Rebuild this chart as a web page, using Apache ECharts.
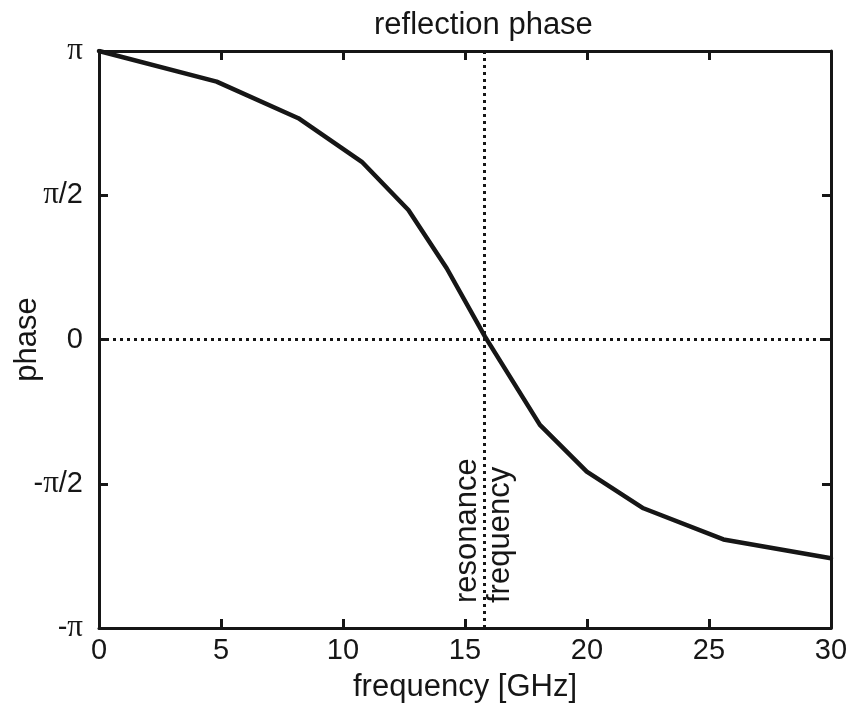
<!DOCTYPE html>
<html>
<head>
<meta charset="utf-8">
<title>reflection phase</title>
<script src="https://cdn.jsdelivr.net/npm/echarts@6/dist/echarts.min.js"></script>
<style>
  html, body { margin: 0; padding: 0; background: #fff; }
  #chart { width: 851px; height: 711px; }
</style>
</head>
<body>
<div id="chart"></div>
<script>
// Frequency samples in GHz and the reflection phase at each, in units of pi
const frequency = [0, 4.82, 8.17, 10.77, 12.68, 14.25, 15.82, 18.07, 19.99, 22.31, 25.59, 30];
const phaseOverPi = [1.0, 0.894, 0.767, 0.616, 0.449, 0.247, 0.01, -0.296, -0.458, -0.585, -0.693, -0.758];

// Resonance frequency (zero phase crossing), GHz
const resonanceFreq = 15.8;

// Tick labels on the phase axis ({s|...} marks the serif pi glyph)
const phaseTickValues = [-1, -0.5, 0, 0.5, 1];
const phaseTickLabels = ['-{s|π}', '-{s|π}/2', '0', '{s|π}/2', '{s|π}'];

const ink = '#161616';
const font = 'Liberation Sans, Arial, sans-serif';
const serif = 'Liberation Serif, Times New Roman, serif';

const chart = echarts.init(document.getElementById('chart'), null, { renderer: 'canvas' });

const axisLine = { show: true, onZero: false, lineStyle: { color: ink, width: 3 } };
const axisTick = { show: true, inside: true, length: 9, lineStyle: { color: ink, width: 3 } };

function phaseLabel(v) {
  const i = phaseTickValues.findIndex(t => Math.abs(t - v) < 1e-9);
  return i >= 0 ? phaseTickLabels[i] : '';
}

const option = {
  backgroundColor: '#fff',
  animation: false,
  title: {
    text: 'reflection phase',
    left: 369,
    top: 5,
    textStyle: { fontFamily: font, fontSize: 31, fontWeight: 'normal', color: ink }
  },
  grid: {
    left: 99, right: 20, top: 51, bottom: 83,
    containLabel: false, outerBoundsMode: 'none'
  },
  xAxis: [
    {
      type: 'value', position: 'bottom', min: 0, max: 30, interval: 5,
      name: 'frequency [GHz]', nameLocation: 'middle', nameGap: 44, nameMoveOverlap: false,
      nameTextStyle: { fontFamily: font, fontSize: 31, color: ink },
      axisLine, axisTick,
      axisLabel: { fontFamily: font, fontSize: 29, color: ink, margin: 8 },
      splitLine: { show: false }
    },
    {
      type: 'value', position: 'top', min: 0, max: 30, interval: 5,
      axisLine, axisTick, axisLabel: { show: false }, splitLine: { show: false }
    }
  ],
  yAxis: [
    {
      type: 'value', position: 'left', min: -1, max: 1, interval: 0.5,
      name: 'phase', nameLocation: 'middle', nameGap: 56, nameRotate: 90, nameMoveOverlap: false,
      nameTextStyle: { fontFamily: font, fontSize: 31, color: ink },
      axisLine, axisTick,
      axisLabel: {
        fontFamily: font, fontSize: 29, color: ink, margin: 16,
        formatter: phaseLabel,
        rich: {
          s: { fontFamily: serif, fontSize: 31, color: ink }
        }
      },
      splitLine: { show: false }
    },
    {
      type: 'value', position: 'right', min: -1, max: 1, interval: 0.5,
      axisLine, axisTick, axisLabel: { show: false }, splitLine: { show: false }
    }
  ],
  series: [
    {
      type: 'line',
      data: frequency.map((f, i) => [f, phaseOverPi[i]]),
      showSymbol: false,
      symbol: 'none',
      lineStyle: { color: ink, width: 4.5, join: 'round', cap: 'round' },
      z: 5,
      markLine: {
        silent: true,
        symbol: 'none',
        animation: false,
        label: { show: false },
        lineStyle: { color: ink, width: 3, type: [3, 4] },
        data: [
          { xAxis: resonanceFreq },
          { yAxis: 0 }
        ]
      }
    }
  ]
};

chart.setOption(option);

// Rotated annotation beside the resonance line
const base = chart.convertToPixel({ xAxisIndex: 0, yAxisIndex: 0 }, [resonanceFreq, -1]);
chart.setOption({
  graphic: [
    {
      type: 'text',
      x: base[0] - 1,
      y: base[1] - 25,
      rotation: Math.PI / 2,
      z: 10,
      style: {
        text: 'resonance\nfrequency',
        fontFamily: font,
        fontSize: 31,
        lineHeight: 33,
        fill: ink,
        align: 'left',
        verticalAlign: 'middle'
      }
    }
  ]
});
</script>
</body>
</html>
